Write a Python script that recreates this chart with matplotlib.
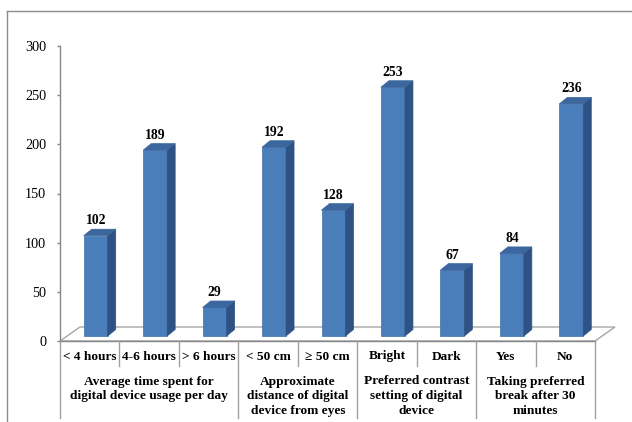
import matplotlib
matplotlib.use("Agg")
import matplotlib.pyplot as plt
import matplotlib.transforms as mtransforms
from matplotlib.patches import Polygon
from matplotlib.lines import Line2D

# ---- data ----
categories = ["< 4 hours", "4-6 hours", "> 6 hours", "< 50 cm", "\u2265 50 cm",
              "Bright", "Dark", "Yes", "No"]
values = [102, 189, 29, 192, 128, 253, 67, 84, 236]
groups = ["Average time spent for\ndigital device usage per day",
          "Approximate\ndistance of digital\ndevice from eyes",
          "Preferred contrast\nsetting of digital\ndevice",
          "Taking preferred\nbreak after 30\nminutes"]
group_sizes = [3, 2, 2, 2]
yticks = [0, 50, 100, 150, 200, 250, 300]

# ---- figure geometry (pixels) ----
W, H, DPI = 632, 422, 100
fig = plt.figure(figsize=(W / DPI, H / DPI), dpi=DPI)
fig.patch.set_facecolor("white")
ax_l, ax_r, ax_t, ax_b = 60, 595, 46, 341
ax = fig.add_axes([ax_l / W, (H - ax_b) / H, (ax_r - ax_l) / W, (ax_b - ax_t) / H])
n = len(categories)
ax.set_xlim(0, n)
ax.set_ylim(0, 300)
ax.patch.set_alpha(0)

pxx = (ax_r - ax_l) / n          # px per category
pxy = (ax_b - ax_t) / 300.0      # px per unit

def dx(p):
    return p / pxx

def dy(p):
    return p / pxy

serif = "Liberation Serif"
front_c = "#4A7EBB"
side_c = "#2E5283"
top_c = "#3B679E"
grid_c = "#A6A6A6"

# ---- floor (3D base) ----
fdx, fdy = dx(20), dy(14)
floor = Polygon([(0, 0), (fdx, fdy), (n + fdx, fdy), (n, 0)], closed=True,
                facecolor="none", edgecolor=grid_c, lw=1.0, clip_on=False, zorder=1)
ax.add_patch(floor)

# ---- bars ----
off_x, off_y = dx(6), dy(5)
bw = dx(24)
ddx, ddy = dx(8), dy(6.5)
for i, v in enumerate(values):
    x0 = i + 0.5 + off_x - bw / 2
    x1 = x0 + bw
    y0 = off_y
    y1 = off_y + v
    ax.add_patch(Polygon([(x0, y0), (x1, y0), (x1, y1), (x0, y1)], closed=True,
                         facecolor=front_c, edgecolor="#3F70AA", lw=0.5, zorder=3, clip_on=False))
    ax.add_patch(Polygon([(x1, y0), (x1 + ddx, y0 + ddy), (x1 + ddx, y1 + ddy), (x1, y1)],
                         closed=True, facecolor=side_c, edgecolor=side_c, lw=0.5, zorder=3, clip_on=False))
    ax.add_patch(Polygon([(x0, y1), (x0 + ddx, y1 + ddy), (x1 + ddx, y1 + ddy), (x1, y1)],
                         closed=True, facecolor=top_c, edgecolor=top_c, lw=0.5, zorder=3, clip_on=False))
    ax.annotate(str(v), xy=(i + 0.5 + off_x, y1 + ddy), xytext=(0, 1.5),
                textcoords="offset points", ha="center", va="bottom",
                fontsize=9.8, fontweight="bold", family=serif, zorder=4)

# ---- axes styling ----
for s in ["top", "right"]:
    ax.spines[s].set_visible(False)
ax.spines["left"].set_color("#868686")
ax.spines["bottom"].set_color("#868686")
ax.spines["left"].set_linewidth(1.0)
ax.spines["bottom"].set_linewidth(1.0)
ax.set_yticks(yticks)
ax.set_yticklabels([str(t) for t in yticks], family=serif, fontsize=10.3)
ax.tick_params(axis="y", direction="out", length=2.5, width=1.0, color="#868686", pad=7.5)
ax.set_xticks([])

# ---- category table below axis ----
bt = mtransforms.blended_transform_factory(ax.transData, fig.transFigure)

def fy(py):
    return 1 - py / H

line_c = "#A0A0A0"
bounds = [0]
for g in group_sizes:
    bounds.append(bounds[-1] + g)
for k in range(n + 1):
    long_line = k in bounds
    y_end = 418 if long_line else 366
    fig.add_artist(Line2D([k, k], [fy(ax_b), fy(y_end)], transform=bt, color=line_c,
                          lw=1.0, clip_on=False))

for i, c in enumerate(categories):
    fig.text(i + 0.5, fy(356.5), c, transform=bt, ha="center", va="center",
             fontsize=9.6, fontweight="bold", family=serif)

for gi, g in enumerate(groups):
    cx = (bounds[gi] + bounds[gi + 1]) / 2.0
    for li, line in enumerate(g.split("\n")):
        fig.text(cx, fy(381.5 + 14.6 * li), line, transform=bt, ha="center", va="center",
                 fontsize=9.6, fontweight="bold", family=serif)

# ---- outer border ----
bc = "#8C8C8C"
fig.add_artist(Line2D([7 / W, 7 / W], [fy(11), 0], transform=fig.transFigure, color=bc, lw=1.0))
fig.add_artist(Line2D([7 / W, 1], [fy(11), fy(11)], transform=fig.transFigure, color=bc, lw=1.0))

fig.savefig("out.png", dpi=DPI, facecolor="white")
